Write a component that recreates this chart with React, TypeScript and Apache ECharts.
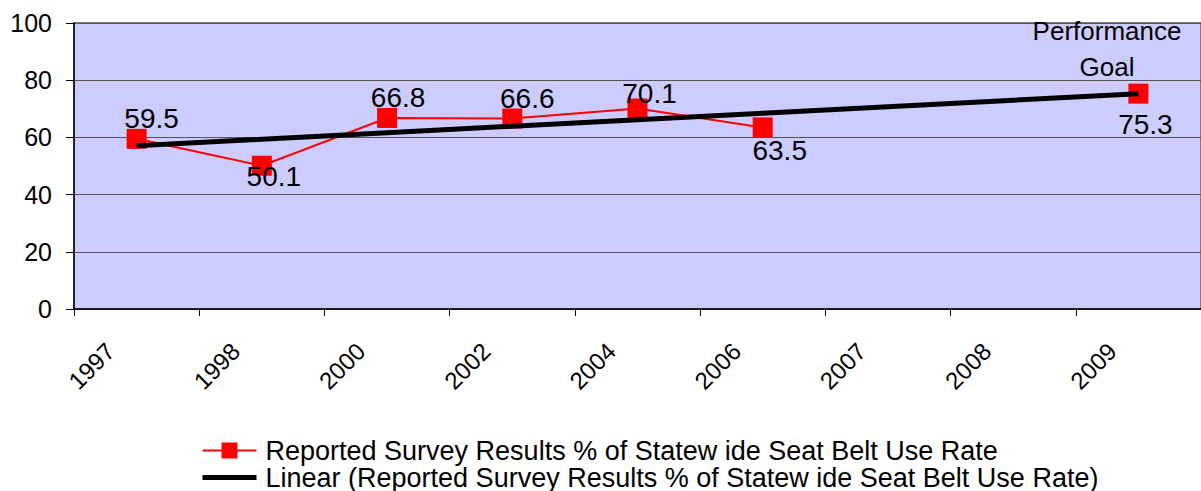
import React, { useEffect, useRef } from "react";
import * as echarts from "echarts";

const categories = ["1997", "1998", "2000", "2002", "2004", "2006", "2007", "2008", "2009"];
const surveyValues: (number | null)[] = [59.5, 50.1, 66.8, 66.6, 70.1, 63.5, null, null, 75.3];
const yTicks = { min: 0, max: 100, interval: 20 };
const seriesName = "Reported Survey Results % of Statew ide Seat Belt Use Rate";
const trendName = "Linear (Reported Survey Results % of Statew ide Seat Belt Use Rate)";
const goalText = "Performance\nGoal";

// label placement (style only)
const labelOffsets: [number, number][] = [
  [15, -20], [12, 11], [11, -20], [15, -20], [12, -15], [17, 23], [0, 0], [0, 0], [7, 31],
];

const FONT = "'Liberation Sans', Arial, sans-serif";

function linearTrend(vals: (number | null)[]): number[] {
  const pts: [number, number][] = [];
  vals.forEach((v, i) => {
    if (v !== null) pts.push([i + 1, v]);
  });
  const n = pts.length;
  const mx = pts.reduce((s, p) => s + p[0], 0) / n;
  const my = pts.reduce((s, p) => s + p[1], 0) / n;
  let sxy = 0, sxx = 0;
  pts.forEach(([x, y]) => {
    sxy += (x - mx) * (y - my);
    sxx += (x - mx) * (x - mx);
  });
  const slope = sxy / sxx;
  const icpt = my - slope * mx;
  return vals.map((_, i) => icpt + slope * (i + 1));
}

export default function App() {
  const ref = useRef<HTMLDivElement>(null);
  useEffect(() => {
    if (!ref.current) return;
    const chart = echarts.init(ref.current, undefined, { renderer: "svg" });
    const trend = linearTrend(surveyValues);
    chart.setOption({
      animation: false,
      textStyle: { fontFamily: FONT },
      grid: {
        left: 74,
        top: 23,
        width: 1142,
        height: 286,
        show: true,
        backgroundColor: "#CCCCFF",
        borderColor: "#808080",
        borderWidth: 2,
      },
      xAxis: {
        type: "category",
        data: categories,
        boundaryGap: true,
        axisLine: { show: true, lineStyle: { color: "#000", width: 1.5 } },
        axisTick: { show: true, length: 7, lineStyle: { color: "#000" } },
        axisLabel: {
          rotate: 45,
          margin: 12,
          padding: [0, 37, 0, 0],
          fontSize: 24,
          color: "#000",
          fontFamily: FONT,
          interval: 0,
        },
        splitLine: { show: false },
      },
      yAxis: {
        type: "value",
        min: yTicks.min,
        max: yTicks.max,
        interval: yTicks.interval,
        axisLine: { show: true, lineStyle: { color: "#000", width: 1.5 } },
        axisTick: { show: true, length: 8, lineStyle: { color: "#000" } },
        axisLabel: { margin: 22, fontSize: 25, color: "#000", fontFamily: FONT },
        splitLine: { show: true, lineStyle: { color: "#555", width: 1 } },
      },
      legend: {
        orient: "vertical",
        left: 200,
        top: 437,
        height: 80,
        padding: 0,
        itemWidth: 54,
        itemHeight: 20,
        itemGap: 0,
        textStyle: {
          fontSize: 27,
          lineHeight: 25,
          color: "#000",
          fontFamily: FONT,
          padding: [0, 0, 0, 4],
        },
        data: [
          { name: seriesName },
          {
            name: trendName,
            itemStyle: { color: "transparent", borderWidth: 0, opacity: 0 },
            lineStyle: { color: "#000", width: 5 },
          },
        ],
      },
      series: [
        {
          name: seriesName,
          type: "line",
          data: surveyValues.map((v, i) => ({
            value: v,
            label: { offset: labelOffsets[i] },
          })),
          connectNulls: false,
          symbol: "rect",
          symbolSize: 20,
          itemStyle: { color: "#FF0000" },
          lineStyle: { color: "#FF0000", width: 2 },
          label: {
            show: true,
            position: "inside",
            fontSize: 28,
            color: "#000",
            fontFamily: FONT,
            align: "center",
            verticalAlign: "middle",
          },
          z: 2,
        },
        {
          name: trendName,
          type: "line",
          data: trend,
          showSymbol: false,
          symbol: "none",
          lineStyle: { color: "#000", width: 5 },
          itemStyle: { color: "#000" },
          z: 3,
          silent: true,
        },
      ],
      graphic: [
        {
          type: "text",
          x: 1107,
          y: 49,
          style: {
            text: goalText,
            fontSize: 26,
            lineHeight: 36,
            fontFamily: FONT,
            fill: "#000",
            align: "center",
            verticalAlign: "middle",
          },
          z: 10,
        },
      ],
    });
    return () => chart.dispose();
  }, []);
  return (
    <div
      ref={ref}
      style={{ position: "fixed", left: 0, top: 0, width: 1201, height: 491, background: "#fff" }}
    />
  );
}
